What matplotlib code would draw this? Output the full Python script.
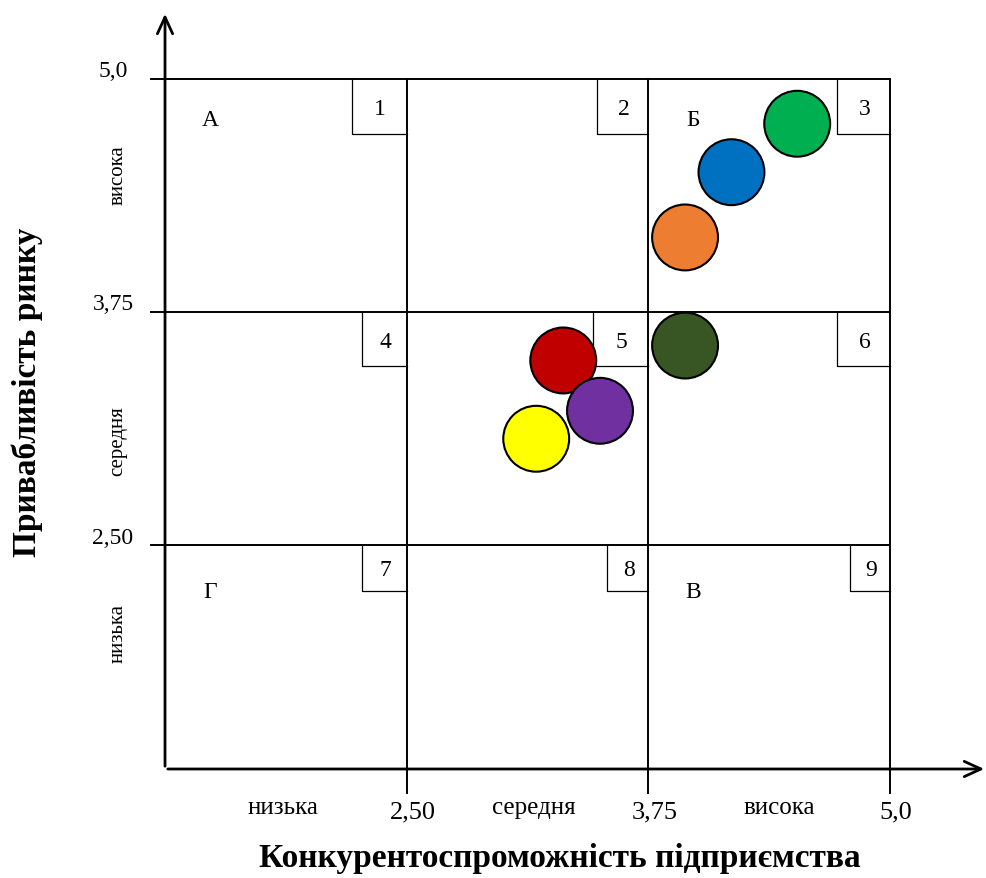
import matplotlib
matplotlib.use("Agg")
import matplotlib.pyplot as plt

plt.rcParams['font.family'] = ['Liberation Serif', 'DejaVu Serif']

# ---- data ----
bounds = [1.25, 2.50, 3.75, 5.0]           # grid boundaries (both axes)
bound_labels = ["2,50", "3,75", "5,0"]
levels = ["низька", "середня", "висока"]
cell_numbers = [["1", "2", "3"], ["4", "5", "6"], ["7", "8", "9"]]  # rows top->bottom
corner_letters = {"А": (0, 0), "Б": (0, 2), "Г": (2, 0), "В": (2, 2)}  # (row, col)

comp_x = [4.52, 4.18, 3.94, 3.94, 3.31, 3.50, 3.17]   # competitiveness
attr_y = [4.76, 4.50, 4.15, 3.57, 3.49, 3.22, 3.07]   # market attractiveness
colors = ["#00B050", "#0070C0", "#ED7D31", "#375623", "#C00000", "#7030A0", "#FFFF00"]

x_title = "Конкурентоспроможність підприємства"
y_title = "Привабливість ринку"

# ---- layout (pixel scaling) ----
W, H = 987, 879
px_x = 193.33   # px per unit on x
px_y = 186.4    # px per unit on y
fig = plt.figure(figsize=(W / 100, H / 100), dpi=100)
ax = fig.add_axes([0, 0, 1, 1])
ax.set_xlim(5.0 - 890 / px_x, 5.0 + (W - 890) / px_x)
ax.set_ylim(5.0 - (H - 80) / px_y, 5.0 + 80 / px_y)
ax.axis('off')

x0 = bounds[0]
y0 = 5.0 - 690 / px_y      # x-axis level
ext_x = 14 / px_x
ext_y = 24 / px_y

# grid lines
for b in bounds[1:]:
    ax.plot([x0 - ext_x, 5.0], [b, b], color='black', lw=1.4, zorder=2)
    ax.plot([b, b], [y0 - ext_y, 5.0], color='black', lw=1.4, zorder=2)

# axes with arrows
arrow_style = dict(arrowstyle="->,head_length=1.2,head_width=0.55", lw=2, color='black')
ax.annotate("", xy=(x0, 5.0 + 68 / px_y), xytext=(x0, y0), arrowprops=arrow_style, zorder=3)
ax.annotate("", xy=(5.0 + 97 / px_x, y0), xytext=(x0, y0), arrowprops=arrow_style, zorder=3)

# number boxes in top-right corner of each cell
box_w = [[55, 51, 53], [45, 55, 53], [45, 41, 40]]
box_h = [55, 54, 46]
for r in range(3):
    top = bounds[3 - r]
    for c in range(3):
        right = bounds[c + 1]
        bw = box_w[r][c] / px_x
        bh = box_h[r] / px_y
        ax.plot([right - bw, right - bw, right], [top, top - bh, top - bh],
                color='black', lw=0.9, zorder=2)
        ax.text(right - bw / 2 + 1 / px_x, top - bh / 2 - 2 / px_y, cell_numbers[r][c],
                ha='center', va='center', fontsize=17, zorder=4)

# corner letters
letter_drop = {0: 40, 2: 46}
for letter, (r, c) in corner_letters.items():
    top = bounds[3 - r]
    left = bounds[c]
    ax.text(left + 45 / px_x, top - letter_drop[r] / px_y, letter, ha='center', va='center',
            fontsize=17)

# bubbles
ax.scatter(comp_x, attr_y, s=2250, c=colors, edgecolors='black', linewidths=1.5, zorder=5)

# axis value labels
for b, lab in zip(bounds[1:], bound_labels):
    ax.text(b + 6 / px_x, y0 - 42 / px_y, lab, ha='center', va='center', fontsize=19)
    ax.text(x0 - 52 / px_x, b + 8 / px_y, lab, ha='center', va='center', fontsize=17)
# level labels
xlev_shift = [-0.015, 0.034, 0.051]
for i, lev in enumerate(levels):
    xc = (bounds[i] + bounds[i + 1]) / 2
    ax.text(xc + xlev_shift[i], y0 - 38 / px_y, lev, ha='center', va='center', fontsize=18)
ylev_pos = [2.50 - 0.47, 3.75 - 0.69, 5.0 - 0.51]
for lev, yc in zip(levels, ylev_pos):
    ax.text(x0 - 47 / px_x, yc, lev, rotation=90, ha='center', va='center', fontsize=15)

# titles
ax.text(5.0 - 330 / px_x, y0 - 88 / px_y, x_title, ha='center', va='center',
        fontsize=24, fontweight='bold')
ax.text(x0 - 138 / px_x, 5.0 - 312 / px_y, y_title, rotation=90, ha='center', va='center',
        fontsize=24, fontweight='bold')

fig.savefig("out.png", dpi=100)
